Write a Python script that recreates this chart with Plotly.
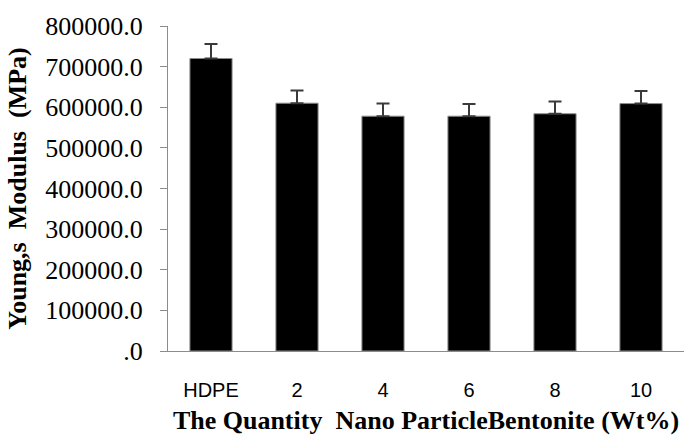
import plotly.graph_objects as go

categories = ["HDPE", "2", "4", "6", "8", "10"]
modulus = [720000, 610000, 578000, 578000, 584000, 609000]
modulus_err = [36000, 31000, 31000, 30000, 30000, 31000]
ytick_vals = [0, 100000, 200000, 300000, 400000, 500000, 600000, 700000, 800000]
ytick_text = [".0", "100000.0", "200000.0", "300000.0", "400000.0",
              "500000.0", "600000.0", "700000.0", "800000.0"]

fig = go.Figure()
fig.add_trace(go.Bar(
    x=categories,
    y=modulus,
    marker=dict(color="#000000", line=dict(color="#8c8c8c", width=1)),
    error_y=dict(type="data", array=modulus_err, arrayminus=[0] * len(modulus_err),
                 symmetric=False, color="#3a3a3a", thickness=2, width=6.5),
    showlegend=False,
))

fig.update_layout(
    width=691, height=435,
    margin=dict(l=168, r=7, t=26, b=84),
    plot_bgcolor="white", paper_bgcolor="white",
    bargap=0.51,
    xaxis=dict(
        automargin=False,
        showline=True, linecolor="#8c8c8c", linewidth=1,
        ticks="", showgrid=False,
        tickfont=dict(family="Liberation Sans", size=20, color="#000000"),
        ticklabelstandoff=21,
        title=dict(text="<b>The Quantity  Nano ParticleBentonite (Wt%)</b>",
                   font=dict(family="Liberation Serif", size=26, color="#000000"),
                   standoff=15),
    ),
    yaxis=dict(
        automargin=False,
        range=[0, 800000],
        tickvals=ytick_vals, ticktext=ytick_text,
        showline=True, linecolor="#8c8c8c", linewidth=1,
        ticks="outside", ticklen=7, tickcolor="#8c8c8c", tickwidth=1,
        showgrid=False, zeroline=False,
        tickfont=dict(family="Liberation Serif", size=26, color="#000000"),
        ticklabelstandoff=12,
        title=dict(text="<b>Young,s  Modulus  (MPa)</b>",
                   font=dict(family="Liberation Serif", size=26, color="#000000"),
                   standoff=11),
    ),
)

fig.write_html("out.html")
